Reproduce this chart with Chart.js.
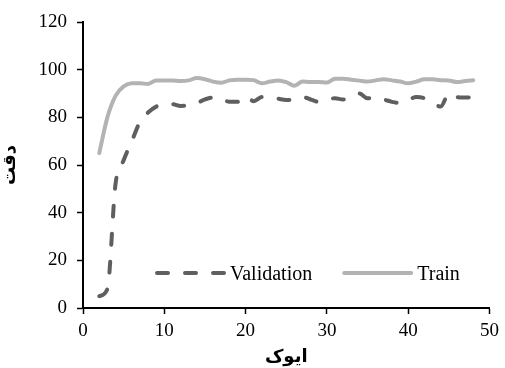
<!DOCTYPE html>
<html>
<head>
<meta charset="utf-8">
<script src="https://cdn.jsdelivr.net/npm/chart.js@4.4.1/dist/chart.umd.min.js"></script>
<style>
html,body{margin:0;padding:0;background:#fff;}
#wrap{width:505px;height:368px;position:relative;}
</style>
</head>
<body>
<div id="wrap"><canvas id="c" width="505" height="368"></canvas></div>
<script>
const epochs = [2,3,4,5,6,7,8,9,10,11,12,13,14,15,16,17,18,19,20,21,22,23,24,25,26,27,28,29,30,31,32,33,34,35,36,37,38,39,40,41,42,43,44,45,46,47,48];
const validationAcc = [5,8,52,62,70,78,82,84.5,85.5,85.5,84.8,85,86,87.5,88.3,88,86.5,86.5,88.8,86.8,88.5,88.3,87.8,87.3,87.5,88.5,87.5,86.5,87.5,88,87.5,88.5,90,88,88.3,87.5,86.5,86,87.3,88.5,88,86,84.5,90,88.5,88.3,88.5];
const trainAcc = [65,80,89,93,94.3,94.3,94,95.5,95.5,95.5,95.2,95.5,96.5,96,95,94.5,95.5,95.8,95.8,95.6,94.3,95,95.5,94.8,93.3,95,94.8,94.8,94.6,96.2,96.2,95.8,95.4,95,95.5,96,95.5,95,94.3,95,96,96,95.6,95.5,94.8,95.2,95.6];
const xTicks = [0,10,20,30,40,50];
const yTicks = [0,20,40,60,80,100,120];
const seriesNames = ['Validation','Train'];
const xTitle = 'ایوک';
const yTitle = 'دقت';

const serif = '"Liberation Serif", "Times New Roman", serif';
const titleFont = '"DejaVu Sans", "Liberation Serif", sans-serif';

const legendPlugin = {
  id: 'inLegend',
  afterDatasetsDraw(chart) {
    const ctx = chart.ctx;
    const ca = chart.chartArea;
    const y = ca.bottom - 35;
    let x = ca.left + 74;
    ctx.save();
    ctx.font = '20px ' + serif;
    ctx.textBaseline = 'middle';
    ctx.textAlign = 'left';
    chart.data.datasets.forEach((ds) => {
      ctx.beginPath();
      ctx.strokeStyle = ds.borderColor;
      ctx.lineWidth = ds.borderWidth;
      ctx.lineCap = 'round';
      ctx.setLineDash(ds.borderDash || []);
      ctx.moveTo(x, y);
      ctx.lineTo(x + 67, y);
      ctx.stroke();
      ctx.setLineDash([]);
      ctx.fillStyle = '#000';
      ctx.fillText(ds.label, x + 73, y + 2);
      const w = ctx.measureText(ds.label).width;
      x = x + 73 + w + 32;
    });
    ctx.restore();
  }
};

new Chart(document.getElementById('c'), {
  type: 'line',
  data: {
    datasets: [
      {
        label: seriesNames[0],
        data: epochs.map((e, i) => ({x: e, y: validationAcc[i]})),
        borderColor: '#5f5f5f',
        borderWidth: 4,
        borderDash: [11, 17],
        borderCapStyle: 'round',
        pointRadius: 0,
        fill: false,
        cubicInterpolationMode: 'monotone'
      },
      {
        label: seriesNames[1],
        data: epochs.map((e, i) => ({x: e, y: trainAcc[i]})),
        borderColor: '#b3b3b3',
        borderWidth: 4,
        borderCapStyle: 'round',
        pointRadius: 0,
        fill: false,
        cubicInterpolationMode: 'monotone'
      }
    ]
  },
  options: {
    responsive: false,
    animation: false,
    devicePixelRatio: 1,
    layout: { padding: { left: 0, right: 11, top: 22, bottom: 0 } },
    plugins: { legend: { display: false }, tooltip: { enabled: false } },
    scales: {
      x: {
        type: 'linear',
        min: 0, max: 50,
        afterBuildTicks: (s) => { s.ticks = xTicks.map(v => ({value: v})); },
        afterFit: (s) => { s.height = 60; },
        grid: { display: true, drawOnChartArea: false, drawTicks: true, tickLength: 6, color: '#000', tickWidth: 1.5 },
        border: { display: true, color: '#000', width: 2 },
        ticks: { color: '#000', font: { family: serif, size: 19 }, padding: 6, maxRotation: 0 },
        title: { display: true, text: xTitle, color: '#000', font: { family: titleFont, size: 18, weight: 'bold' }, padding: { top: 0, bottom: 0 } }
      },
      y: {
        min: 0, max: 120,
        afterBuildTicks: (s) => { s.ticks = yTicks.map(v => ({value: v})); },
        afterFit: (s) => { s.width = 83; },
        grid: { display: true, drawOnChartArea: false, drawTicks: true, tickLength: 6, color: '#000', tickWidth: 1.5 },
        border: { display: true, color: '#000', width: 2 },
        ticks: { color: '#000', font: { family: serif, size: 19 }, padding: 10 },
        title: { display: true, text: yTitle, color: '#000', font: { family: titleFont, size: 18, weight: 'bold' }, padding: { top: 0, bottom: 0 } }
      }
    }
  },
  plugins: [legendPlugin]
});
</script>
</body>
</html>
